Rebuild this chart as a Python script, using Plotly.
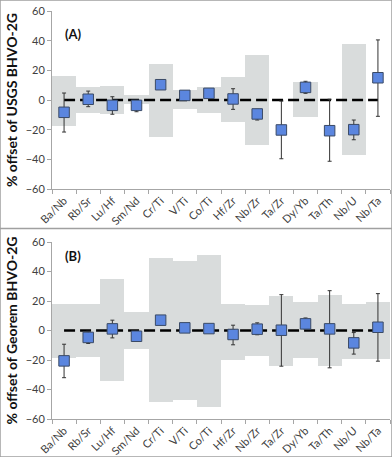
import plotly.graph_objects as go
from plotly.subplots import make_subplots

ratios = ['Ba/Nb', 'Rb/Sr', 'Lu/Hf', 'Sm/Nd', 'Cr/Ti', 'V/Ti', 'Co/Ti',
          'Hf/Zr', 'Nb/Zr', 'Ta/Zr', 'Dy/Yb', 'Ta/Th', 'Nb/U', 'Nb/Ta']

# (A) offset vs USGS BHVO-2G
usgs_offset = [-8.3, 0.5, -3.6, -3.6, 10.3, 3.1, 4.5, 0.7, -9.4, -20.2, 8.5, -20.7, -20.0, 15.0]
usgs_err_hi = [4.7, 6.0, 2.2, -1.3, 10.3, 3.1, 4.5, 7.6, -6.3, -0.7, 12.6, 0.5, -13.5, 40.5]
usgs_err_lo = [-21.6, -4.5, -9.6, -7.9, 10.3, 3.1, 4.5, -6.3, -13.5, -39.6, 4.5, -41.3, -26.8, -11.0]
usgs_band_hi = [16.5, 9.0, 9.5, 3.5, 24.5, 6.5, 8.5, 15.3, 30.3, 0, 12.0, 0, 38.0, 0]
usgs_band_lo = [-17.3, -9.0, -9.7, -2.7, -24.7, -6.0, -8.5, -15.0, -30.3, 0, -11.5, 0, -37.0, 0]

# (B) offset vs Georem BHVO-2G
georem_offset = [-20.6, -4.7, 1.1, -3.9, 7.0, 1.8, 1.3, -2.7, 0.9, 0.2, 4.5, 1.1, -8.4, 2.2]
georem_err_hi = [-9.3, -0.5, 7.0, -0.9, 7.0, 1.8, 1.3, 3.6, 5.2, 24.3, 8.5, 27.0, -1.4, 25.0]
georem_err_lo = [-32.0, -8.8, -5.0, -7.2, 7.0, 1.8, 1.3, -9.7, -2.9, -24.2, 0.9, -25.3, -16.0, -20.8]
georem_band_hi = [18.3, 17.8, 34.7, 12.4, 49.0, 47.0, 51.4, 18.3, 17.1, 23.4, 19.4, 23.9, 18.3, 19.0]
georem_band_lo = [-18.5, -18.0, -34.3, -12.6, -48.3, -47.2, -51.9, -20.0, -17.4, -24.2, -18.5, -24.0, -19.0, -19.2]

zero_line = [0] * len(ratios)

fig = make_subplots(rows=2, cols=1, vertical_spacing=0.1)

panels = [
    (usgs_offset, usgs_err_hi, usgs_err_lo, usgs_band_hi, usgs_band_lo),
    (georem_offset, georem_err_hi, georem_err_lo, georem_band_hi, georem_band_lo),
]

for row, (off, ehi, elo, bhi, blo) in enumerate(panels, start=1):
    # grey range band
    fig.add_trace(go.Bar(
        x=ratios, y=[h - l for h, l in zip(bhi, blo)], base=blo, width=1,
        marker=dict(color='#d9dcdc', line_width=0), hoverinfo='skip'), row=row, col=1)
    # zero line
    fig.add_trace(go.Scatter(
        x=ratios, y=zero_line, mode='lines',
        line=dict(color='black', width=2.5, dash='11px,5px')), row=row, col=1)
    # offsets with error bars
    fig.add_trace(go.Scatter(
        x=ratios, y=off, mode='markers',
        marker=dict(symbol='square', size=10.5, color='#5b86df',
                    line=dict(color='#3a4a66', width=1)),
        error_y=dict(type='data', symmetric=False,
                     array=[max(h - o, 0) for h, o in zip(ehi, off)],
                     arrayminus=[max(o - l, 0) for l, o in zip(elo, off)],
                     color='#333333', thickness=1, width=2)), row=row, col=1)

font = dict(family='Lato, Open Sans, sans-serif', color='#404040', size=11)

fig.update_xaxes(range=[-0.5, 13.5], tickangle=-45, tickson='boundaries',
                 ticks='outside', ticklen=4, tickcolor='#a6a6a6',
                 showline=True, linecolor='#a6a6a6', linewidth=1,
                 showgrid=False, automargin=False,
                 tickfont=dict(size=11, color='#404040'))
fig.update_yaxes(range=[-60, 60], dtick=20, ticks='outside', ticklen=4,
                 tickcolor='#a6a6a6', showline=True, linecolor='#a6a6a6',
                 linewidth=1, showgrid=False, zeroline=False, automargin=False,
                 tickfont=dict(size=11, color='#404040'))

fig.update_xaxes(domain=[52 / 392, 390 / 392], row=1, col=1)
fig.update_xaxes(domain=[52 / 392, 390 / 392], row=2, col=1)
fig.update_yaxes(domain=[1 - 189 / 457, 1 - 11 / 457], row=1, col=1,
                 title=dict(text='<b>% offset of USGS BHVO-2G</b>', standoff=4,
                            font=dict(size=14, color='#111111')))
fig.update_yaxes(domain=[1 - 419 / 457, 1 - 242 / 457], row=2, col=1,
                 title=dict(text='<b>% offset of Georem BHVO-2G</b>', standoff=4,
                            font=dict(size=14, color='#111111')))

fig.add_annotation(text='<b>(A)</b>', x=63 / 392, y=1 - 24 / 457, xref='paper', yref='paper',
                   xanchor='left', showarrow=False, font=dict(size=13, color='#111111'))
fig.add_annotation(text='<b>(B)</b>', x=63 / 392, y=1 - 256 / 457, xref='paper', yref='paper',
                   xanchor='left', showarrow=False, font=dict(size=13, color='#111111'))

# panel frames
fig.add_shape(type='rect', xref='paper', yref='paper', x0=0, x1=1, y0=0, y1=1,
              line=dict(color='#a0a0a0', width=1.5))
fig.add_shape(type='line', xref='paper', yref='paper', x0=0, x1=1,
              y0=1 - 228.5 / 457, y1=1 - 228.5 / 457, line=dict(color='#a0a0a0', width=1.5))

fig.update_layout(width=392, height=457, margin=dict(l=0, r=0, t=0, b=0),
                  paper_bgcolor='white', plot_bgcolor='white', showlegend=False,
                  bargap=0, font=font)

fig.write_html("out.html", config={'displayModeBar': False},
               post_script="document.body.style.margin='0';")
